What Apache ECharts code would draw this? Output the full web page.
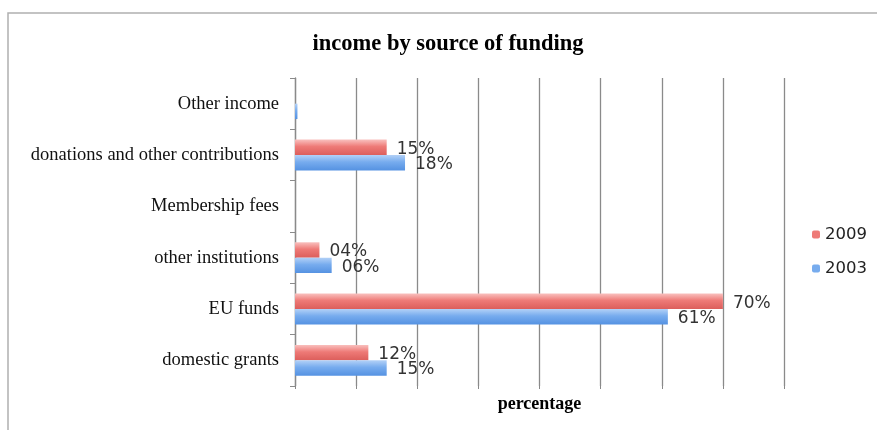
<!DOCTYPE html>
<html><head><meta charset="utf-8">
<script src="https://cdn.jsdelivr.net/npm/echarts@6/dist/echarts.min.js"></script>
<style>html,body{margin:0;padding:0;background:#fff}#c{width:877px;height:430px}</style>
</head><body><div id="c"></div>
<script>
var categories = ['domestic grants','EU funds','other institutions','Membership fees','donations and other contributions','Other income'];
var values2009 = [12, 70, 4, 0, 15, 0];
var values2003 = [15, 61, 6, 0, 18, 0.4];
var labels2009 = ['12%','70%','04%','','15%',''];
var labels2003 = ['15%','61%','06%','','18%',''];

var chart = echarts.init(document.getElementById('c'));
function grad(c1,c2,c3){return new echarts.graphic.LinearGradient(0,0,0,1,[{offset:0,color:c1},{offset:0.45,color:c2},{offset:1,color:c3}]);}
var redG = grad('#f9c0be','#ee7a77','#dc5e5b');
var blueG = grad('#b3d1f7','#77acee','#5592e2');
function mk(vals, labs){return vals.map(function(v,i){return {value:v, label:{formatter:labs[i]}};});}
chart.setOption({
  animation:false,
  graphic:[{type:'rect',shape:{x:8,y:13,width:900,height:440},style:{fill:'none',stroke:'#b0b0b0',lineWidth:1.5},z:-1,silent:true}],
  title:{text:'income by source of funding',left:447,top:28,textAlign:'center',
    textStyle:{fontFamily:'Liberation Serif',fontWeight:'bold',fontSize:22.5,color:'#000'}},
  legend:{orient:'vertical',left:807,top:221,itemWidth:8,itemHeight:8,itemGap:17,
    data:[{name:'2009',itemStyle:{color:'#ee7a77'}},{name:'2003',itemStyle:{color:'#77acee'}}],
    textStyle:{fontFamily:'DejaVu Sans',fontSize:16.5,color:'#222'}},
  grid:{left:295,right:93,top:78,bottom:44},
  xAxis:{type:'value',min:0,max:80,interval:10,
    name:'percentage',nameLocation:'middle',nameGap:9,
    nameTextStyle:{fontFamily:'Liberation Serif',fontWeight:'bold',fontSize:18,color:'#000',verticalAlign:'top'},
    axisLine:{show:false},axisLabel:{show:false},
    axisTick:{show:true,length:3,lineStyle:{color:'#888'}},
    splitLine:{show:true,lineStyle:{color:'#8a8a8a',width:1.3}}},
  yAxis:{type:'category',data:categories,
    axisLine:{show:true,lineStyle:{color:'#8a8a8a',width:1.3}},
    axisTick:{show:true,length:5,lineStyle:{color:'#8a8a8a'}},
    axisLabel:{fontFamily:'Liberation Serif',fontSize:18.5,color:'#111',margin:16}},
  series:[
    {name:'2009',type:'bar',data:mk(values2009,labels2009),barGap:'0%',barCategoryGap:'40%',
     itemStyle:{color:redG},
     label:{show:true,position:'right',distance:10,offset:[0,2],fontFamily:'DejaVu Sans',fontSize:17,color:'#333'}},
    {name:'2003',type:'bar',data:mk(values2003,labels2003),
     itemStyle:{color:blueG},
     label:{show:true,position:'right',distance:10,offset:[0,2],fontFamily:'DejaVu Sans',fontSize:17,color:'#333'}}
  ]
});
chart.setOption({title:{left:443}});
</script></body></html>
